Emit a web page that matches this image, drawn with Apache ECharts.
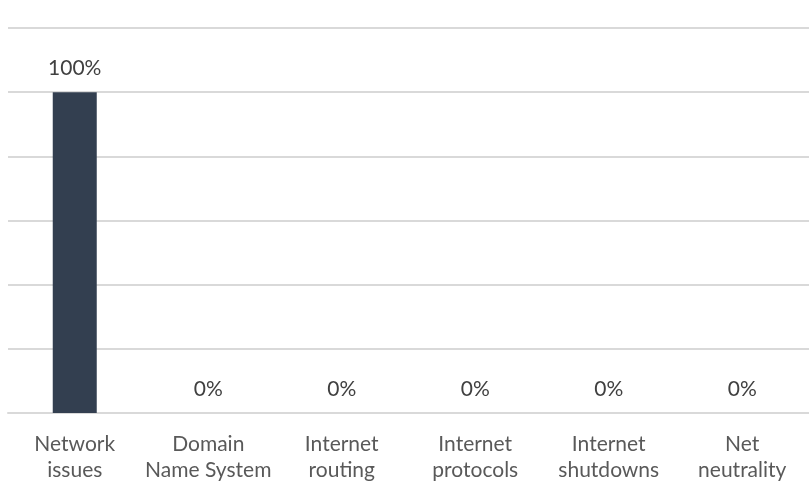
<!DOCTYPE html>
<html>
<head>
<meta charset="utf-8">
<script src="https://cdn.jsdelivr.net/npm/echarts@6/dist/echarts.min.js"></script>
<style>
  html, body { margin: 0; padding: 0; background: #fff; }
  #chart { width: 809px; height: 485px; }
</style>
</head>
<body>
<div id="chart"></div>
<script>
// Topic categories (line breaks as shown under the axis)
const categories = [
  'Network\nissues',
  'Domain\nName System',
  'Internet\nrouting',
  'Internet\nprotocols',
  'Internet\nshutdowns',
  'Net\nneutrality'
];
// Share of responses per topic, in percent
const shares = [100, 0, 0, 0, 0, 0];

const FONT = 'Lato';

const chart = echarts.init(document.getElementById('chart'), null, { renderer: 'canvas' });
chart.setOption({
  animation: false,
  backgroundColor: '#ffffff',
  grid: { left: 8, right: 0, top: 28, bottom: 72, containLabel: false },
  xAxis: {
    type: 'category',
    data: categories,
    axisLine: { show: true, lineStyle: { color: '#D9D9D9', width: 2 } },
    axisTick: { show: false },
    axisLabel: {
      color: '#595959',
      fontFamily: FONT,
      fontSize: 21,
      lineHeight: 26,
      margin: 18,
      interval: 0
    }
  },
  yAxis: {
    type: 'value',
    min: 0,
    max: 120,
    interval: 20,
    axisLine: { show: false },
    axisTick: { show: false },
    axisLabel: { show: false },
    splitLine: { lineStyle: { color: '#D9D9D9', width: 2 } }
  },
  series: [{
    type: 'bar',
    data: shares,
    barWidth: 44,
    itemStyle: { color: '#333F50' },
    label: {
      show: true,
      position: 'top',
      distance: 13,
      formatter: p => p.value + '%',
      color: '#404040',
      fontFamily: FONT,
      fontSize: 21
    }
  }]
});
</script>
</body>
</html>
